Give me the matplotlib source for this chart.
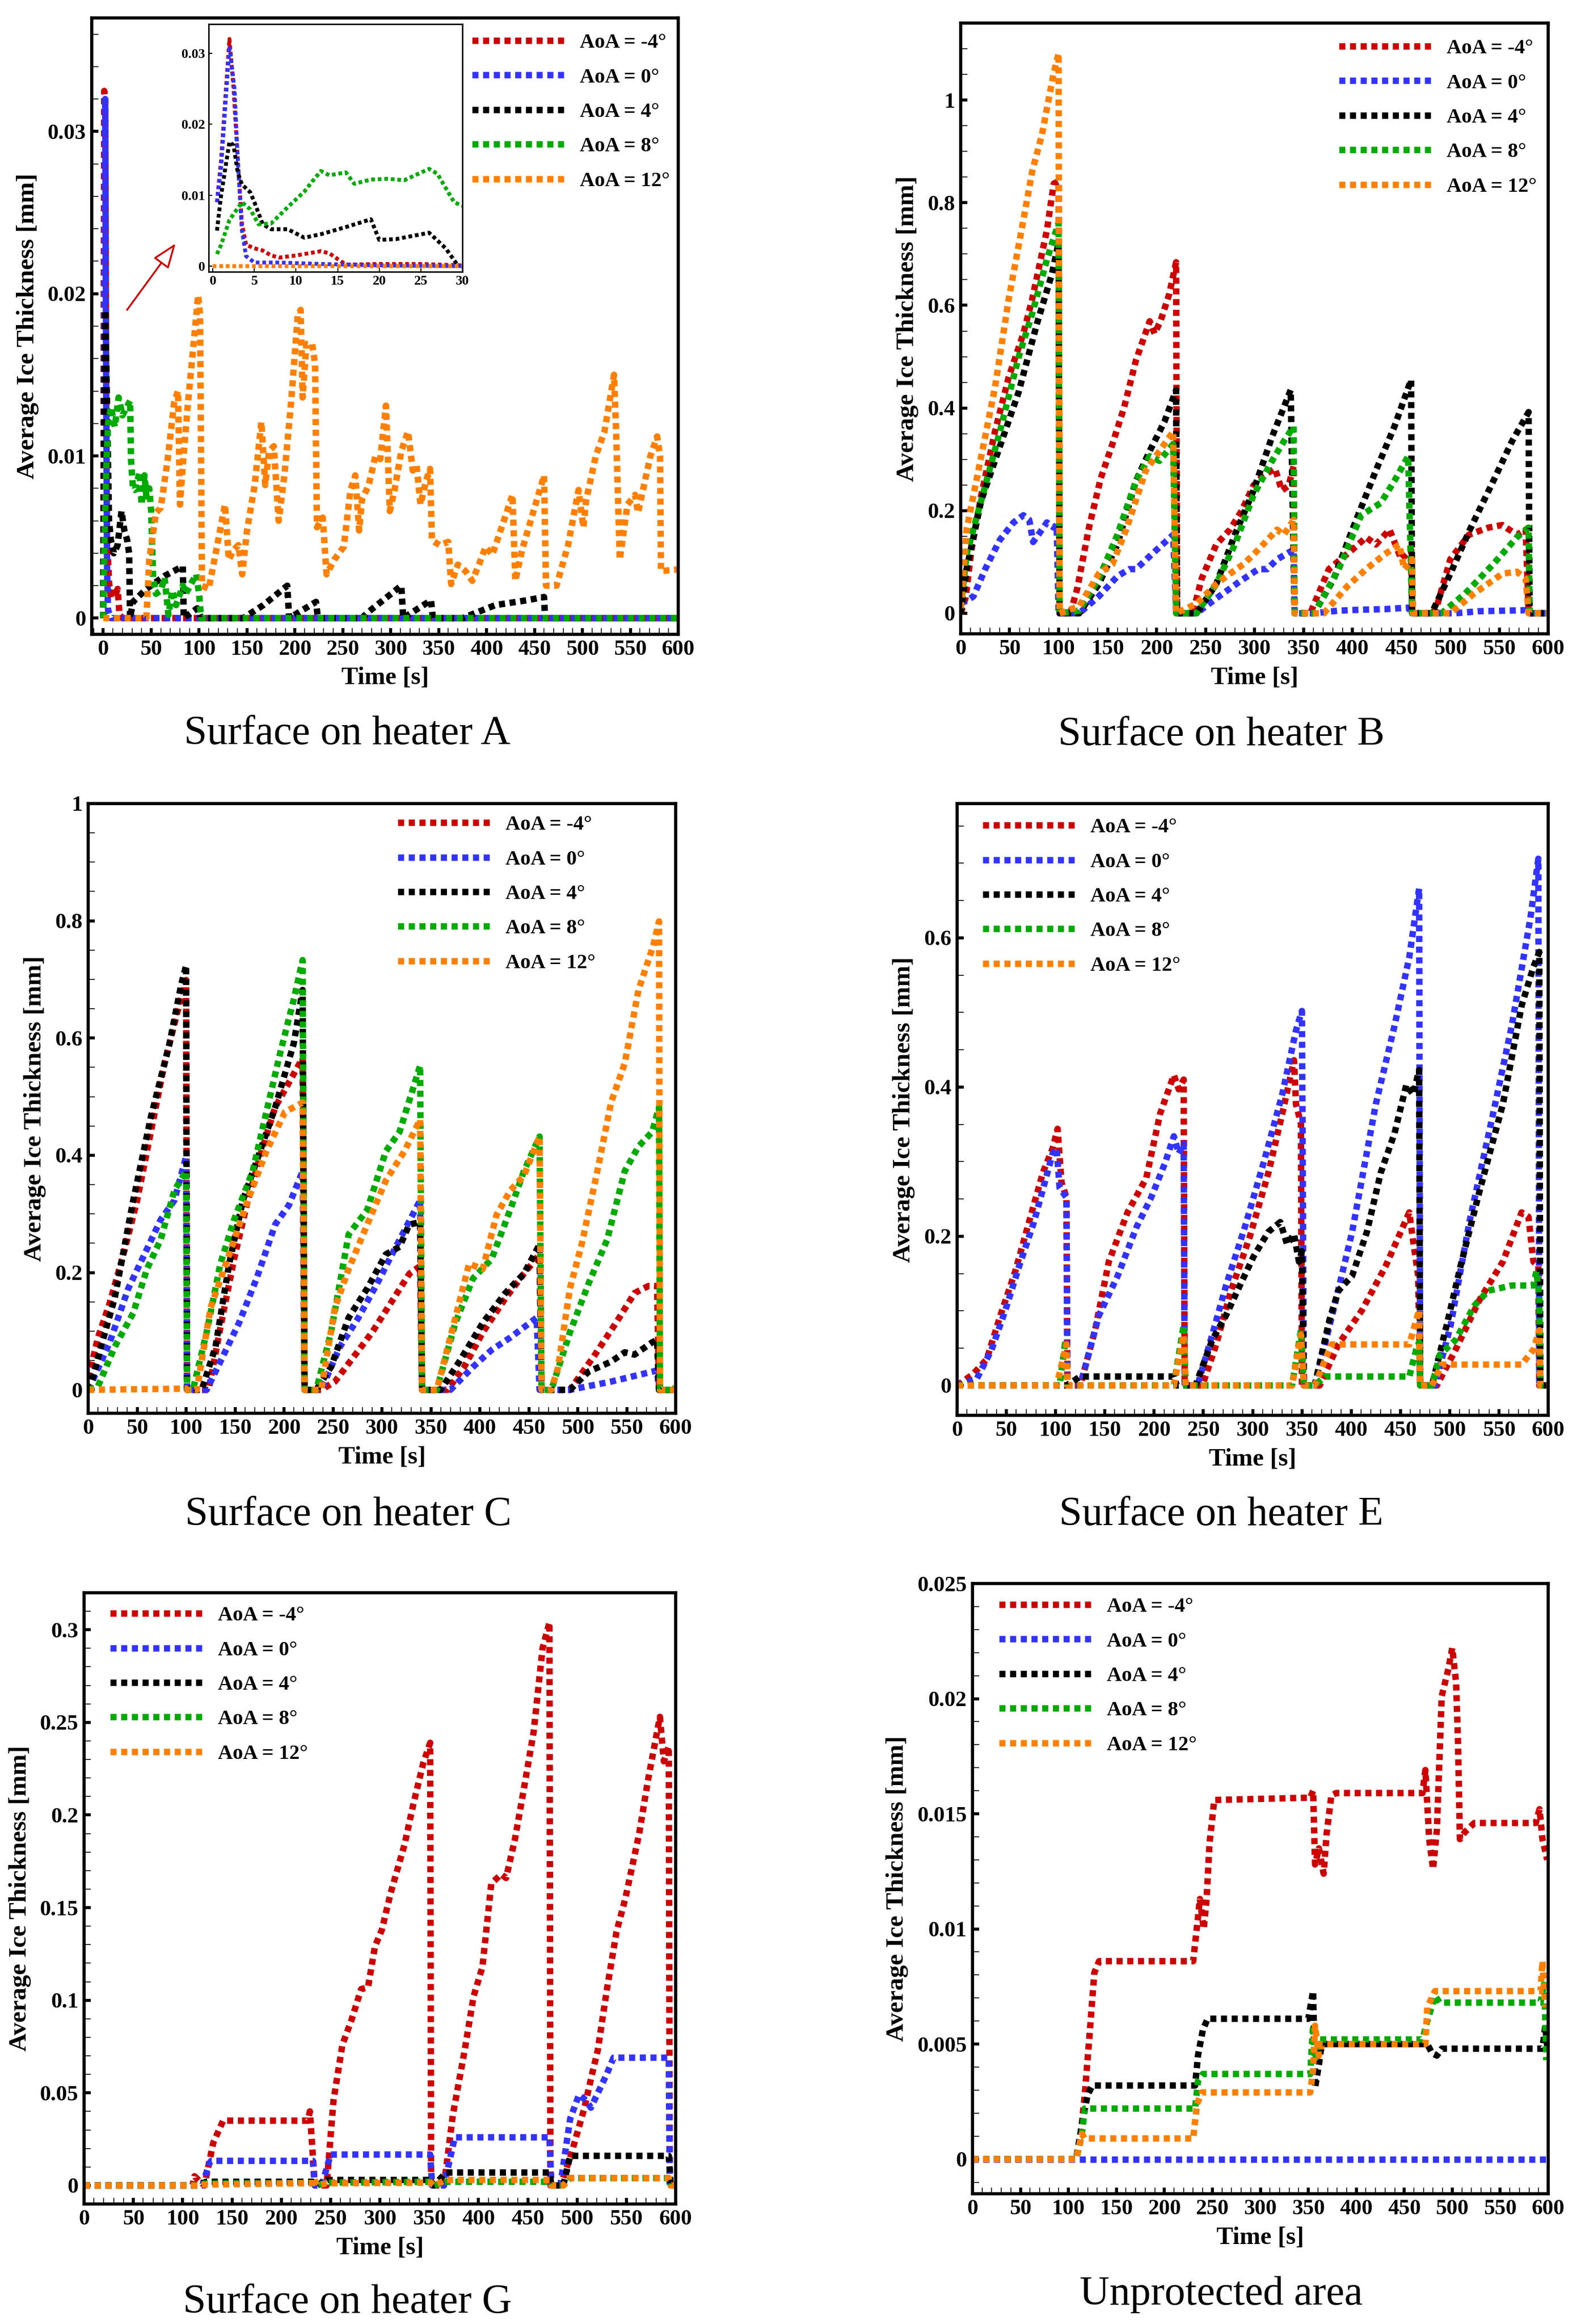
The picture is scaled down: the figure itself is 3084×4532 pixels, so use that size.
import matplotlib
matplotlib.use('Agg')
import matplotlib.pyplot as plt
from matplotlib.ticker import MultipleLocator, FuncFormatter

# ---- data: (time [s], average ice thickness [mm]) ----
# heater A
A_M4 = [(0, 0), (1, 0.0325), (2, 0.032), (3, 0.015), (4, 0.005), (6, 0.0022), (8, 0.0012),
        (10, 0.0019), (12, 0.0013), (15, 0.0018), (17, 0.0002), (20, 0), (600, 0)]
A_0 = [(0, 0), (1, 0.014), (2, 0.032), (3, 0.015), (4, 0.003), (5, 0.0005), (8, 0), (600, 0)]
A_4 = [(0, 0), (1, 0.012), (2, 0.019), (3, 0.016), (4, 0.013), (6, 0.006), (8, 0.0048), (11, 0.004),
       (15, 0.0045), (19, 0.0066), (22, 0.0054), (25, 0.0048), (27, 0.004), (28, 0), (31, 0.001),
       (45, 0.0018), (64, 0.0026), (83, 0.0032), (84, 0), (91, 0.0003), (98, 0.0006), (102, 0),
       (146, 0), (167, 0.0008), (192, 0.002), (194, 0), (222, 0.001), (224, 0), (270, 0),
       (275, 0.0003), (311, 0.002), (313, 0), (342, 0.0011), (344, 0), (375, 0), (409, 0.0008),
       (442, 0.0011), (460, 0.0013), (461, 0), (600, 0)]
A_8 = [(0, 0), (1, 0.004), (3, 0.009), (5, 0.012), (8, 0.013), (12, 0.0118), (16, 0.0136),
       (20, 0.0125), (28, 0.0134), (29, 0.0097), (31, 0.008), (33, 0.0079), (38, 0.009), (40, 0.007),
       (43, 0.0088), (45, 0.0075), (48, 0.008), (50, 0.0066), (52, 0.0025), (55, 0.0015),
       (60, 0.0017), (64, 0.0025), (68, 0.0002), (72, 0.0017), (76, 0.0008), (83, 0.002),
       (86, 0.0015), (97, 0.0027), (100, 0.0015), (102, 0), (600, 0)]
A_12 = [(0, 0), (45, 0), (48, 0.0036), (55, 0.0065), (60, 0.0068), (67, 0.0097), (74, 0.0133),
        (78, 0.014), (80, 0.007), (83, 0.0094), (88, 0.013), (96, 0.018), (99, 0.0199), (101, 0.0187),
        (103, 0.002), (110, 0.0018), (117, 0.0039), (127, 0.007), (131, 0.0036), (136, 0.0042),
        (141, 0.0045), (145, 0.0027), (150, 0.0054), (158, 0.0082), (165, 0.0121), (169, 0.0082),
        (173, 0.0103), (178, 0.0106), (183, 0.006), (189, 0.0088), (196, 0.0133), (203, 0.0187),
        (206, 0.019), (208, 0.0136), (212, 0.0169), (218, 0.0169), (221, 0.0157), (223, 0.0056),
        (229, 0.0062), (233, 0.0027), (241, 0.0036), (251, 0.0044), (258, 0.0079), (263, 0.0088),
        (267, 0.0054), (270, 0.0073), (277, 0.0082), (284, 0.01), (289, 0.0098), (295, 0.0131),
        (299, 0.0066), (304, 0.0079), (311, 0.0103), (318, 0.0115), (323, 0.0091), (327, 0.0094),
        (331, 0.007), (337, 0.0085), (341, 0.0092), (343, 0.0048), (351, 0.0045), (360, 0.0047),
        (363, 0.0021), (370, 0.0033), (378, 0.0029), (385, 0.0023), (392, 0.0033), (399, 0.0044),
        (406, 0.0039), (418, 0.006), (427, 0.0076), (430, 0.0023), (437, 0.0042), (449, 0.0066),
        (460, 0.0088), (462, 0.002), (473, 0.002), (485, 0.0045), (496, 0.0079), (501, 0.0056),
        (504, 0.0073), (514, 0.01), (523, 0.0115), (533, 0.015), (535, 0.0118), (539, 0.0036),
        (547, 0.007), (555, 0.0076), (558, 0.0065), (571, 0.01), (578, 0.0112), (581, 0.01),
        (582, 0.0029), (600, 0.003)]

# heater A, first 30 s (inset)
AI_M4 = [(0.5, 0.009), (1, 0.015), (2, 0.032), (2.5, 0.025), (3, 0.015), (3.5, 0.006), (4, 0.003),
         (5, 0.0025), (6, 0.0022), (7, 0.0015), (8, 0.0012), (10, 0.0015), (13, 0.0021), (14, 0.0018),
         (15, 0.001), (16, 0.0002), (20, 0.0003), (25, 0.0003), (30, 0.0001)]
AI_0 = [(0.5, 0.009), (1, 0.014), (2, 0.031), (2.6, 0.025), (3, 0.015), (3.5, 0.005), (4, 0.0014),
        (5, 0.0005), (8, 0.0005), (13, 0.0003), (20, 0.0001), (30, 0)]
AI_4 = [(0.5, 0.005), (1, 0.01), (2, 0.0175), (2.5, 0.017), (3, 0.0132), (3.5, 0.0115), (4.5, 0.0104),
        (5, 0.009), (6, 0.0059), (7, 0.0052), (9, 0.0052), (11, 0.004), (13, 0.0045), (16, 0.0055),
        (19, 0.0066), (20, 0.0037), (22, 0.0038), (26, 0.0047), (28, 0.0025), (29.5, 0)]
AI_8 = [(0.5, 0.0017), (1, 0.003), (2, 0.0065), (3.5, 0.009), (4.5, 0.008), (5.5, 0.0059), (7, 0.006),
        (9, 0.0083), (11, 0.0105), (12, 0.012), (13, 0.0134), (14, 0.0128), (16, 0.0132), (17, 0.0116),
        (19, 0.0122), (21, 0.0123), (23, 0.0121), (26, 0.0137), (27, 0.013), (29, 0.009), (30, 0.0085)]
AI_12 = [(0, 0), (30, 0)]

# heater B
B_M4 = [(0, 0), (5, 0.03), (11, 0.124), (21, 0.23), (35, 0.354), (49, 0.46), (64, 0.545), (73, 0.612),
        (88, 0.746), (95, 0.837), (100, 0.842), (101, 0), (112, 0), (119, 0.048), (131, 0.167),
        (143, 0.263), (155, 0.33), (167, 0.402), (179, 0.493), (193, 0.569), (198, 0.545), (204, 0.569),
        (213, 0.622), (220, 0.684), (221, 0), (237, 0), (246, 0.067), (261, 0.134), (275, 0.163),
        (287, 0.2), (299, 0.249), (309, 0.268), (321, 0.282), (328, 0.239), (335, 0.249), (340, 0.287),
        (341, 0), (357, 0), (376, 0.086), (400, 0.124), (414, 0.148), (424, 0.134), (438, 0.163),
        (450, 0.105), (460, 0.124), (461, 0), (477, 0), (485, 0.005), (500, 0.105), (519, 0.153),
        (539, 0.167), (553, 0.172), (568, 0.153), (577, 0.163), (580, 0), (600, 0)]
B_0 = [(0, 0.02), (6, 0.024), (13, 0.033), (25, 0.086), (40, 0.143), (54, 0.177), (64, 0.191),
       (70, 0.182), (74, 0.139), (83, 0.163), (88, 0.177), (95, 0.167), (98, 0.172), (100, 0), (121, 0),
       (141, 0.033), (160, 0.072), (172, 0.086), (179, 0.086), (198, 0.12), (217, 0.153), (220, 0),
       (241, 0), (261, 0.029), (285, 0.062), (304, 0.086), (313, 0.086), (323, 0.105), (340, 0.124),
       (341, 0), (361, 0), (385, 0.005), (409, 0.007), (433, 0.008), (457, 0.011), (461, 0), (505, 0),
       (529, 0.004), (577, 0.006), (580, 0), (600, 0)]
B_4 = [(0, 0), (6, 0.086), (21, 0.22), (40, 0.325), (59, 0.43), (78, 0.565), (93, 0.66), (100, 0.722),
       (101, 0), (121, 0), (141, 0.057), (160, 0.134), (179, 0.258), (193, 0.316), (208, 0.373),
       (220, 0.435), (221, 0), (241, 0), (261, 0.057), (280, 0.153), (299, 0.239), (318, 0.344),
       (337, 0.435), (341, 0), (361, 0), (381, 0.067), (400, 0.163), (424, 0.278), (443, 0.364),
       (460, 0.455), (461, 0), (481, 0), (500, 0.077), (520, 0.163), (544, 0.258), (563, 0.335),
       (580, 0.392), (581, 0), (600, 0)]
B_8 = [(0, 0.01), (6, 0.115), (21, 0.22), (40, 0.354), (59, 0.498), (73, 0.584), (88, 0.689),
       (100, 0.761), (101, 0), (121, 0.005), (141, 0.067), (160, 0.153), (179, 0.258), (193, 0.306),
       (203, 0.297), (217, 0.33), (220, 0), (241, 0), (261, 0.057), (280, 0.134), (299, 0.23),
       (318, 0.297), (330, 0.335), (340, 0.364), (341, 0), (361, 0), (386, 0.086), (409, 0.191),
       (429, 0.215), (443, 0.258), (457, 0.306), (461, 0), (491, 0), (515, 0.038), (544, 0.096),
       (568, 0.148), (580, 0.167), (581, 0), (600, 0)]
B_12 = [(0, 0.01), (6, 0.163), (21, 0.306), (35, 0.44), (49, 0.612), (64, 0.766), (73, 0.861),
        (83, 0.933), (95, 1.053), (100, 1.091), (101, 0), (121, 0.014), (141, 0.077), (155, 0.096),
        (169, 0.163), (189, 0.278), (203, 0.316), (217, 0.354), (220, 0), (241, 0.019), (261, 0.057),
        (275, 0.077), (289, 0.096), (304, 0.124), (323, 0.163), (330, 0.153), (340, 0.182), (341, 0),
        (371, 0), (395, 0.053), (414, 0.086), (433, 0.115), (448, 0.134), (453, 0.086), (461, 0.105),
        (462, 0), (500, 0), (524, 0.038), (553, 0.077), (568, 0.081), (577, 0.067), (580, 0), (600, 0)]

# heater C
C_M4 = [(0, 0.02), (3, 0.04), (10, 0.089), (22, 0.148), (36, 0.231), (50, 0.323), (64, 0.44),
        (78, 0.557), (93, 0.657), (100, 0.699), (101, 0), (123, 0), (135, 0.106), (149, 0.223),
        (163, 0.323), (177, 0.407), (191, 0.482), (205, 0.524), (219, 0.566), (221, 0), (238, 0),
        (252, 0.014), (271, 0.056), (290, 0.098), (309, 0.148), (328, 0.198), (339, 0.211), (341, 0),
        (367, 0), (384, 0.039), (403, 0.098), (426, 0.156), (445, 0.198), (461, 0.231), (463, 0),
        (492, 0), (516, 0.056), (539, 0.114), (558, 0.165), (572, 0.177), (581, 0.177), (583, 0), (600, 0)]
C_0 = [(0, 0), (3, 0.01), (22, 0.081), (41, 0.173), (60, 0.24), (74, 0.29), (88, 0.323), (100, 0.398),
       (101, 0), (121, 0), (135, 0.048), (154, 0.114), (172, 0.19), (191, 0.282), (205, 0.315),
       (219, 0.373), (221, 0), (238, 0), (257, 0.073), (276, 0.123), (295, 0.181), (313, 0.24),
       (339, 0.323), (341, 0), (370, 0), (393, 0.039), (412, 0.068), (431, 0.089), (458, 0.123),
       (461, 0), (492, 0), (534, 0.014), (581, 0.033), (583, 0), (600, 0)]
C_4 = [(0, 0), (3, 0.01), (13, 0.073), (27, 0.156), (46, 0.323), (64, 0.465), (83, 0.59), (95, 0.691),
       (100, 0.724), (101, 0), (116, 0), (130, 0.073), (144, 0.215), (158, 0.323), (172, 0.39),
       (191, 0.482), (210, 0.591), (219, 0.682), (221, 0), (233, 0), (248, 0.039), (266, 0.123),
       (285, 0.173), (304, 0.231), (318, 0.244), (328, 0.282), (339, 0.286), (341, 0), (360, 0),
       (379, 0.048), (403, 0.114), (426, 0.165), (445, 0.198), (461, 0.248), (463, 0), (492, 0),
       (511, 0.031), (534, 0.048), (548, 0.064), (558, 0.06), (576, 0.081), (581, 0.085), (583, 0), (600, 0)]
C_8 = [(0, 0), (10, 0.006), (27, 0.073), (46, 0.131), (60, 0.206), (74, 0.256), (88, 0.34),
       (100, 0.373), (101, 0), (107, 0), (121, 0.098), (135, 0.215), (149, 0.29), (168, 0.373),
       (182, 0.474), (196, 0.574), (210, 0.666), (219, 0.733), (221, 0), (233, 0), (248, 0.098),
       (266, 0.265), (285, 0.307), (304, 0.407), (318, 0.44), (332, 0.515), (339, 0.553), (341, 0),
       (356, 0), (375, 0.114), (393, 0.19), (412, 0.223), (431, 0.307), (445, 0.373), (461, 0.432),
       (463, 0), (473, 0), (492, 0.098), (511, 0.181), (530, 0.256), (548, 0.373), (562, 0.415),
       (576, 0.44), (583, 0.482), (584, 0), (598, 0), (600, 0.005)]
C_12 = [(0, 0), (100, 0.002), (101, 0), (111, 0), (125, 0.14), (144, 0.231), (163, 0.323), (182, 0.407),
        (201, 0.474), (219, 0.49), (221, 0), (238, 0), (252, 0.14), (266, 0.206), (285, 0.282),
        (304, 0.357), (323, 0.407), (339, 0.461), (341, 0), (356, 0), (375, 0.123), (389, 0.215),
        (403, 0.206), (417, 0.298), (431, 0.34), (445, 0.365), (461, 0.432), (463, 0), (473, 0),
        (480, 0.039), (492, 0.173), (504, 0.248), (520, 0.373), (534, 0.49), (548, 0.557),
        (562, 0.682), (577, 0.757), (583, 0.799), (584, 0), (600, 0)]

# heater E
E_M4 = [(0, 0), (16, 0.015), (30, 0.035), (44, 0.094), (59, 0.153), (73, 0.219), (87, 0.285), (97, 0.318),
        (102, 0.344), (106, 0.272), (111, 0.252), (112, 0), (125, 0), (140, 0.074), (154, 0.166),
        (173, 0.232), (192, 0.278), (206, 0.364), (220, 0.416), (225, 0.397), (230, 0.41), (231, 0),
        (249, 0), (263, 0.055), (278, 0.127), (297, 0.199), (316, 0.285), (330, 0.364), (342, 0.436),
        (344, 0.377), (349, 0.351), (350, 0), (368, 0), (387, 0.055), (411, 0.101), (435, 0.16),
        (459, 0.232), (463, 0.193), (468, 0.147), (470, 0), (487, 0), (506, 0.048), (530, 0.114),
        (554, 0.166), (573, 0.232), (580, 0.226), (585, 0.166), (590, 0.16), (591, 0), (600, 0)]
E_0 = [(0, 0), (20, 0.009), (35, 0.048), (49, 0.101), (63, 0.16), (78, 0.219), (97, 0.311), (101, 0.318),
       (104, 0.265), (111, 0.252), (112, 0), (125, 0), (144, 0.094), (163, 0.147), (182, 0.212),
       (197, 0.252), (211, 0.298), (220, 0.334), (225, 0.311), (230, 0.324), (231, 0), (244, 0),
       (259, 0.068), (273, 0.134), (292, 0.212), (311, 0.298), (330, 0.39), (344, 0.476), (350, 0.502),
       (352, 0), (363, 0), (382, 0.101), (401, 0.206), (425, 0.377), (444, 0.482), (459, 0.574),
       (469, 0.666), (470, 0), (485, 0), (501, 0.081), (520, 0.219), (544, 0.364), (563, 0.482),
       (582, 0.627), (590, 0.706), (591, 0), (600, 0)]
E_4 = [(0, 0), (111, 0), (125, 0.012), (220, 0.012), (223, 0), (242, 0), (259, 0.061), (273, 0.094),
       (287, 0.134), (301, 0.173), (316, 0.206), (328, 0.219), (335, 0.189), (342, 0.203), (347, 0.166),
       (350, 0.18), (352, 0), (363, 0), (378, 0.088), (387, 0.127), (401, 0.147), (416, 0.206),
       (430, 0.285), (444, 0.338), (456, 0.403), (463, 0.39), (469, 0.423), (470, 0), (482, 0),
       (497, 0.081), (511, 0.16), (530, 0.259), (554, 0.377), (573, 0.509), (585, 0.561), (591, 0.581),
       (592, 0), (600, 0)]
E_8 = [(0, 0), (104, 0), (110, 0.061), (112, 0), (220, 0), (230, 0.081), (232, 0), (340, 0), (349, 0.074),
       (352, 0), (363, 0), (373, 0.012), (459, 0.012), (466, 0.048), (469, 0.058), (470, 0), (482, 0),
       (490, 0.041), (506, 0.061), (525, 0.107), (539, 0.127), (563, 0.134), (585, 0.134), (588, 0.153),
       (591, 0.12), (592, 0), (600, 0)]
E_12 = [(0, 0), (101, 0), (111, 0.055), (112, 0), (220, 0), (230, 0.068), (232, 0), (340, 0), (349, 0.068),
        (352, 0), (363, 0), (380, 0.055), (459, 0.055), (469, 0.101), (470, 0), (482, 0), (492, 0.028),
        (573, 0.028), (585, 0.048), (591, 0.074), (592, 0), (600, 0)]

# heater G
G_M4 = [(0, 0), (110, 0), (112, 0.005), (122, 0), (131, 0.023), (141, 0.035), (227, 0.035), (229, 0.04),
        (234, 0), (246, 0), (253, 0.046), (262, 0.076), (271, 0.089), (281, 0.106), (288, 0.107),
        (295, 0.129), (302, 0.138), (311, 0.158), (325, 0.184), (334, 0.206), (344, 0.228), (351, 0.239),
        (352, 0), (365, 0), (374, 0.038), (386, 0.073), (395, 0.102), (404, 0.118), (413, 0.163),
        (423, 0.168), (428, 0.166), (437, 0.187), (446, 0.214), (456, 0.245), (465, 0.29), (472, 0.304),
        (473, 0), (483, 0), (493, 0.015), (507, 0.041), (516, 0.062), (521, 0.073), (530, 0.105),
        (540, 0.137), (549, 0.155), (563, 0.19), (572, 0.219), (584, 0.253), (588, 0.229), (593, 0.237),
        (594, 0), (600, 0)]
G_0 = [(0, 0), (120, 0), (127, 0.012), (129, 0.0133), (232, 0.0133), (234, 0), (241, 0), (250, 0.0167),
       (351, 0.0167), (353, 0), (365, 0), (376, 0.026), (472, 0.026), (474, 0), (483, 0), (493, 0.036),
       (502, 0.049), (509, 0.046), (514, 0.042), (530, 0.06), (537, 0.069), (593, 0.069), (594, 0), (600, 0)]
G_4 = [(0, 0), (115, 0), (124, 0.002), (232, 0.002), (236, 0), (246, 0.003), (351, 0.003), (355, 0),
       (367, 0.007), (472, 0.007), (474, 0), (486, 0), (493, 0.016), (593, 0.016), (595, 0), (600, 0)]
G_8 = [(0, 0), (115, 0), (122, 0.001), (232, 0.0013), (236, 0), (246, 0.0015), (351, 0.002), (355, 0),
       (367, 0.002), (472, 0.002), (474, 0), (486, 0), (493, 0.004), (593, 0.004), (595, 0), (600, 0)]
G_12 = [(0, 0), (115, 0), (122, 0.0005), (232, 0.0013), (233, 0.004), (236, 0), (246, 0.0012),
        (351, 0.0015), (355, 0), (367, 0.003), (472, 0.003), (474, 0), (486, 0), (493, 0.004),
        (593, 0.004), (595, 0), (600, 0)]

# unprotected area
U_M4 = [(0, 0), (108, 0), (112, 0.0007), (117, 0.0028), (122, 0.0054), (127, 0.0081), (132, 0.0086),
        (230, 0.0086), (235, 0.0105), (237, 0.0113), (241, 0.01), (244, 0.0113), (247, 0.0137),
        (252, 0.0156), (352, 0.0157), (355, 0.016), (357, 0.0128), (361, 0.0135), (366, 0.0124),
        (369, 0.0141), (374, 0.0158), (379, 0.0159), (469, 0.0159), (472, 0.0169), (476, 0.0139),
        (480, 0.0126), (484, 0.0143), (489, 0.0201), (496, 0.0213), (500, 0.0222), (504, 0.0207),
        (506, 0.0181), (508, 0.0139), (513, 0.0142), (523, 0.0146), (587, 0.0146), (591, 0.0152),
        (594, 0.0139), (599, 0.013)]
U_0 = [(0, 0), (600, 0)]
U_4 = [(0, 0), (108, 0), (114, 0.0015), (120, 0.0028), (125, 0.0032), (232, 0.0032), (235, 0.0045),
       (240, 0.0056), (245, 0.0061), (350, 0.0061), (355, 0.0073), (357, 0.0031), (361, 0.0041),
       (364, 0.005), (474, 0.005), (479, 0.0046), (484, 0.0045), (489, 0.0048), (594, 0.0048),
       (597, 0.0058), (599, 0.0049)]
U_8 = [(0, 0), (108, 0), (114, 0.0011), (117, 0.0022), (232, 0.0022), (235, 0.0034), (240, 0.0037),
       (352, 0.0037), (355, 0.0058), (357, 0.0043), (362, 0.0052), (469, 0.0052), (474, 0.006),
       (482, 0.0071), (487, 0.0068), (592, 0.0068), (596, 0.0077), (598, 0.0043)]
U_12 = [(0, 0), (108, 0), (114, 0.0011), (117, 0.0009), (230, 0.0009), (234, 0.0024), (239, 0.0029),
        (352, 0.0029), (355, 0.0039), (357, 0.0058), (361, 0.0045), (364, 0.005), (472, 0.005),
        (474, 0.0066), (482, 0.0073), (592, 0.0073), (594, 0.0086), (597, 0.0066)]

LABELS = ['AoA = -4°', 'AoA = 0°', 'AoA = 4°', 'AoA = 8°', 'AoA = 12°']
COLORS = ['#cc0000', '#3333ff', '#000000', '#00aa00', '#ff8000']

plt.rcParams['font.family'] = ['Liberation Serif', 'DejaVu Serif']
plt.rcParams['font.weight'] = 'bold'
plt.rcParams['axes.labelweight'] = 'bold'

W, H = 3084, 4532
fig = plt.figure(figsize=(W / 100, H / 100), dpi=100)


def px_axes(l, t, r, b):
    # axes placed by pixel box (left, top, right, bottom)
    return fig.add_axes([l / W, 1 - b / H, (r - l) / W, (b - t) / H])


def fmt(v, pos):
    return '%g' % round(v, 6)


def draw(ax, series, lw=9):
    for data, c, lab in zip(series, COLORS, LABELS):
        t, y = zip(*data)
        ax.plot(t, y, color=c, lw=lw, ls=(0, (0.95, 0.72)), dash_capstyle='butt', label=lab)


def style(ax, ylim, ymaj, ymin, xlim=(0, 600)):
    ax.set_xlim(*xlim)
    ax.set_ylim(*ylim)
    ax.xaxis.set_major_locator(MultipleLocator(50))
    ax.xaxis.set_minor_locator(MultipleLocator(10))
    ax.yaxis.set_major_locator(MultipleLocator(ymaj))
    ax.yaxis.set_minor_locator(MultipleLocator(ymin))
    ax.yaxis.set_major_formatter(FuncFormatter(fmt))
    ax.tick_params(which='both', direction='in')
    ax.tick_params(which='major', length=9, width=4.2, pad=8, labelsize=31)
    ax.tick_params(which='minor', length=9, width=1.2)
    for s in ax.spines.values():
        s.set_linewidth(4.5)
    ax.set_xlabel('Time [s]', fontsize=35, labelpad=10)
    ax.set_ylabel('Average Ice Thickness [mm]', fontsize=35.5, labelpad=12)


def legend(ax, x, y):
    ax.legend(loc='upper left', bbox_to_anchor=(x / W, 1 - y / H), bbox_transform=fig.transFigure,
              frameon=False, fontsize=29, handlelength=4.5, handletextpad=0.72,
              labelspacing=0.75, borderpad=0, borderaxespad=0)


def caption(x, y, text):
    fig.text(x / W, 1 - y / H, text, ha='center', va='baseline', fontsize=58, fontweight='normal')


# A
ax = px_axes(179, 35, 1323, 1237)
draw(ax, [A_M4, A_0, A_4, A_8, A_12])
style(ax, (-0.001, 0.037), 0.01, 0.002, xlim=(-12, 600))
legend(ax, 921, 65)
ax.annotate('', xy=(75.5, 0.0231), xytext=(24.8, 0.019),
            arrowprops=dict(arrowstyle='-|>,head_length=1.2,head_width=0.45', fc='white',
                            ec=COLORS[0], lw=2.5, mutation_scale=25, shrinkA=0, shrinkB=0))
caption(677, 1451, 'Surface on heater A')

axi = px_axes(407, 47, 902, 530)
draw(axi, [AI_M4, AI_0, AI_4, AI_8, AI_12], lw=5.5)
axi.set_xlim(-0.5, 30)
axi.set_ylim(-0.0008, 0.0341)
axi.xaxis.set_major_locator(MultipleLocator(5))
axi.yaxis.set_major_locator(MultipleLocator(0.01))
axi.yaxis.set_major_formatter(FuncFormatter(fmt))
axi.tick_params(direction='in', length=5, width=1.5, pad=5, labelsize=19)
for s in axi.spines.values():
    s.set_linewidth(2)

# B
ax = px_axes(1874, 45, 3020, 1236)
draw(ax, [B_M4, B_0, B_4, B_8, B_12])
style(ax, (-0.04, 1.15), 0.2, 0.05)
legend(ax, 2612, 76)
caption(2382, 1453, 'Surface on heater B')

# C
ax = px_axes(172, 1567, 1318, 2756)
draw(ax, [C_M4, C_0, C_4, C_8, C_12])
style(ax, (-0.04, 1.0), 0.2, 0.05)
legend(ax, 776, 1590)
caption(679, 2974, 'Surface on heater C')

# E
ax = px_axes(1867, 1567, 3020, 2760)
draw(ax, [E_M4, E_0, E_4, E_8, E_12])
style(ax, (-0.04, 0.78), 0.2, 0.05)
legend(ax, 1917, 1595)
caption(2382, 2974, 'Surface on heater E')

# G
ax = px_axes(164, 3106, 1318, 4298)
draw(ax, [G_M4, G_0, G_4, G_8, G_12])
style(ax, (-0.01, 0.32), 0.05, 0.01)
legend(ax, 215, 3132)
caption(678, 4510, 'Surface on heater G')

# unprotected
ax = px_axes(1897, 3088, 3020, 4278)
draw(ax, [U_M4, U_0, U_4, U_8, U_12])
style(ax, (-0.0015, 0.025), 0.005, 0.001)
legend(ax, 1949, 3115)
caption(2382, 4494, 'Unprotected area')

fig.savefig('out.png', dpi=100)
